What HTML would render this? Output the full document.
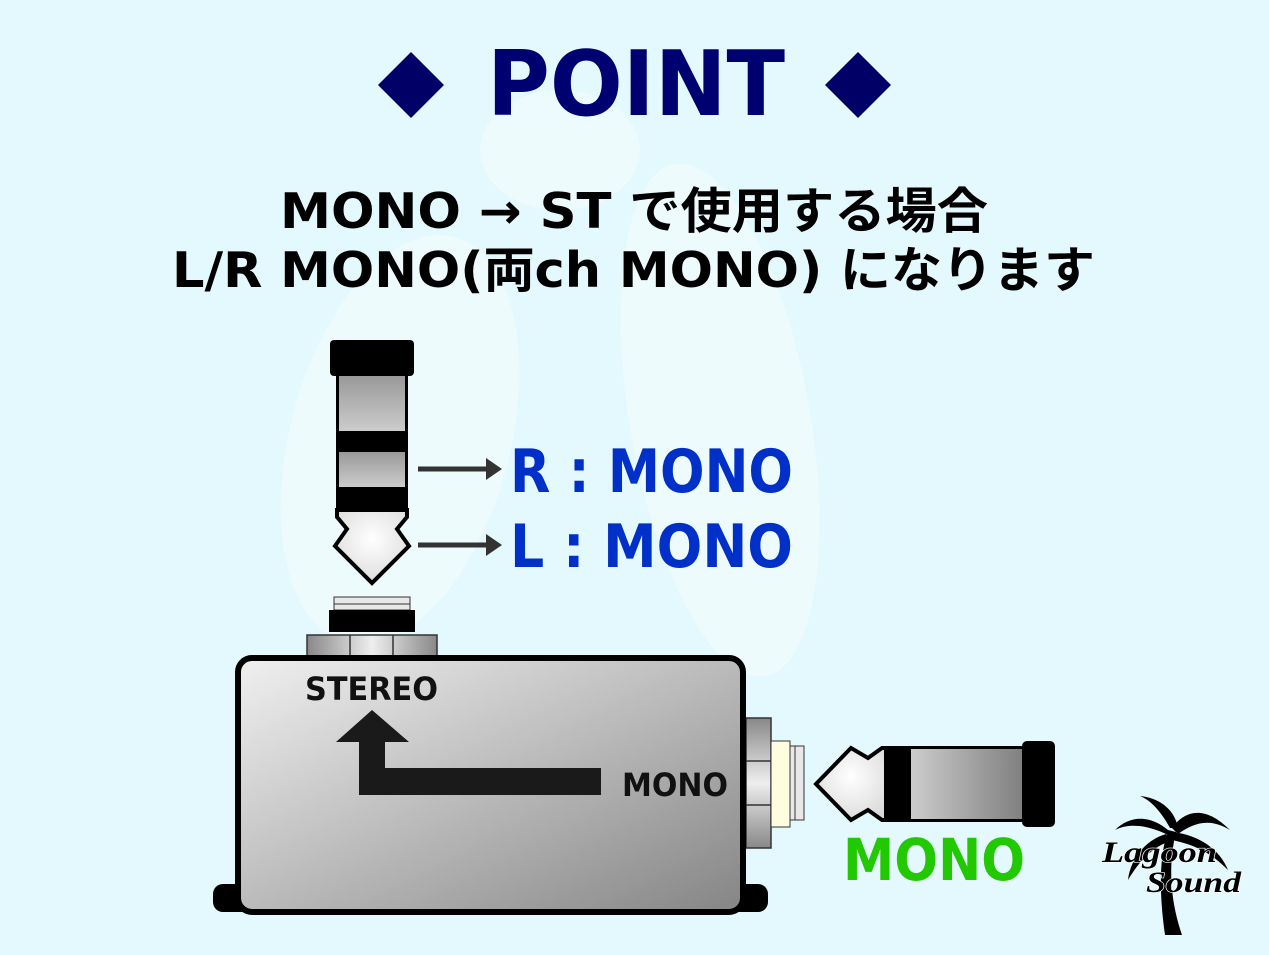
<!DOCTYPE html>
<html><head><meta charset="utf-8"><style>
html,body{margin:0;padding:0;background:#e4f9fd;}
svg{display:block}
text{font-family:"DejaVu Sans","Noto Sans CJK JP",sans-serif;font-weight:bold}
</style></head><body>
<svg width="1269" height="955" viewBox="0 0 1269 955" xmlns="http://www.w3.org/2000/svg">
<defs>
<linearGradient id="box" x1="0" y1="0" x2="1" y2="1"><stop offset="0" stop-color="#f0f0f0"/><stop offset="1" stop-color="#858585"/></linearGradient>
<linearGradient id="seg" x1="0" y1="0" x2="0" y2="1"><stop offset="0" stop-color="#999"/><stop offset="1" stop-color="#ccc"/></linearGradient>
<linearGradient id="hseg" x1="0" y1="0" x2="1" y2="0"><stop offset="0" stop-color="#ccc"/><stop offset="1" stop-color="#808080"/></linearGradient>
<radialGradient id="tip" cx="0.5" cy="0.4" r="0.7"><stop offset="0" stop-color="#fff"/><stop offset="1" stop-color="#d8d8d8"/></radialGradient>
<linearGradient id="nut" x1="0" y1="0" x2="1" y2="0"><stop offset="0" stop-color="#888"/><stop offset="0.5" stop-color="#eee"/><stop offset="1" stop-color="#888"/></linearGradient>
<linearGradient id="nutv" x1="0" y1="0" x2="0" y2="1"><stop offset="0" stop-color="#888"/><stop offset="0.5" stop-color="#eee"/><stop offset="1" stop-color="#888"/></linearGradient>
</defs>
<rect width="1269" height="955" fill="#e4f9fd"/>
<!-- faint watermark -->
<g fill="#ffffff" opacity="0.35">
<ellipse cx="400" cy="440" rx="110" ry="210" transform="rotate(15 400 440)"/>
<ellipse cx="720" cy="420" rx="90" ry="260" transform="rotate(-10 720 420)"/>
<ellipse cx="560" cy="150" rx="80" ry="60"/>
</g>
<!-- title -->
<polygon points="411,52 444,85 411,118 378,85" fill="#000066"/>
<polygon points="858,52 891,85 858,118 825,85" fill="#000066"/>
<text x="487" y="115" font-size="90" fill="#000070" textLength="298" lengthAdjust="spacingAndGlyphs">POINT</text>
<text x="280" y="228" font-size="49" fill="#000" textLength="708" lengthAdjust="spacingAndGlyphs">MONO → ST で使用する場合</text>
<text x="172" y="287" font-size="49" fill="#000" textLength="923" lengthAdjust="spacingAndGlyphs">L/R MONO(両ch MONO) になります</text>
<!-- vertical plug -->
<rect x="330" y="340" width="84" height="36" rx="4" fill="#000"/>
<rect x="336" y="374" width="72" height="138" fill="#000"/>
<rect x="339" y="376" width="66" height="55" fill="url(#seg)"/>
<rect x="339" y="452" width="66" height="35" fill="url(#seg)"/>
<polygon points="337,510 407,510 407,517 397,529 409,546 372,583 335,546 347,529 337,517" fill="url(#tip)" stroke="#000" stroke-width="4" stroke-linejoin="miter"/>
<!-- arrows -->
<g fill="#333" stroke="#333">
<line x1="418" y1="469" x2="490" y2="469" stroke-width="5"/><polygon points="486,458 502,469 486,480" stroke="none"/>
<line x1="418" y1="545" x2="490" y2="545" stroke-width="5"/><polygon points="486,534 502,545 486,556" stroke="none"/>
</g>
<text x="510" y="492" font-size="60" fill="#0030c8" textLength="283" lengthAdjust="spacingAndGlyphs">R : MONO</text>
<text x="510" y="567" font-size="60" fill="#0030c8" textLength="283" lengthAdjust="spacingAndGlyphs">L : MONO</text>
<!-- top jack -->
<rect x="334" y="597" width="76" height="13" fill="#e8e8e8" stroke="#333" stroke-width="1"/>
<line x1="334" y1="604" x2="410" y2="604" stroke="#333"/>
<rect x="329" y="610" width="86" height="22" fill="#000"/>
<rect x="307" y="635" width="130" height="24" fill="url(#nut)" stroke="#333" stroke-width="1.5"/>
<line x1="350" y1="635" x2="350" y2="659" stroke="#333" stroke-width="1.5"/>
<line x1="393" y1="635" x2="393" y2="659" stroke="#333" stroke-width="1.5"/>
<!-- right jack -->
<rect x="746" y="718" width="25" height="130" fill="url(#nutv)" stroke="#333" stroke-width="1.5"/>
<line x1="746" y1="761" x2="771" y2="761" stroke="#333" stroke-width="1.5"/>
<line x1="746" y1="805" x2="771" y2="805" stroke="#333" stroke-width="1.5"/>
<rect x="771" y="741" width="19" height="86" fill="#fffde0" stroke="#333" stroke-width="1"/>
<rect x="790" y="746" width="14" height="74" fill="#e8e8e8" stroke="#333" stroke-width="1"/>
<line x1="795" y1="746" x2="795" y2="820" stroke="#333"/>
<!-- box -->
<rect x="213" y="884" width="555" height="28" rx="10" fill="#000"/>
<rect x="238" y="658" width="505" height="254" rx="14" fill="url(#box)" stroke="#000" stroke-width="6"/>
<text x="305" y="700" font-size="32" fill="#111" textLength="133" lengthAdjust="spacingAndGlyphs">STEREO</text>
<polygon points="372,710 409,742 385,742 385,768 601,768 601,795 359,795 359,742 336,742" fill="#1a1a1a"/>
<text x="622" y="796" font-size="32" fill="#111" textLength="106" lengthAdjust="spacingAndGlyphs">MONO</text>
<!-- horizontal plug -->
<rect x="1022" y="741" width="33" height="86" rx="5" fill="#000"/>
<rect x="884" y="746" width="142" height="76" fill="#000"/>
<rect x="911" y="749" width="111" height="70" fill="url(#hseg)"/>
<polygon points="886,748 886,820 882,820 868,810 851,820 816,784 851,748 868,758 882,748" fill="url(#tip)" stroke="#000" stroke-width="4"/>
<text x="843" y="880" font-size="58" fill="#22c800" textLength="182" lengthAdjust="spacingAndGlyphs">MONO</text>
<!-- logo -->
<g fill="#000">
<path d="M1165,935 C1160,900 1158,860 1168,830 L1176,832 C1168,865 1170,900 1182,935 Z"/>
<path d="M1168,830 C1150,815 1130,815 1115,830 C1130,822 1150,826 1168,835 Z"/>
<path d="M1170,828 C1160,810 1150,800 1140,796 C1160,798 1175,810 1178,828 Z"/>
<path d="M1172,828 C1185,810 1205,805 1230,830 C1210,818 1195,822 1178,834 Z"/>
<path d="M1172,832 C1200,835 1220,850 1228,870 C1210,852 1195,845 1172,840 Z"/>
<path d="M1166,834 C1145,840 1130,860 1128,880 C1140,860 1152,848 1168,842 Z"/>
</g>
<g font-style="italic" font-weight="bold" fill="#000" stroke="#fff" stroke-width="1.2" paint-order="stroke">
<text x="1102" y="862" font-size="30" textLength="115" lengthAdjust="spacingAndGlyphs" style="font-family:'Liberation Serif',serif">Lagoon</text>
<text x="1146" y="892" font-size="30" textLength="95" lengthAdjust="spacingAndGlyphs" style="font-family:'Liberation Serif',serif">Sound</text>
</g>
</svg>
</body></html>
